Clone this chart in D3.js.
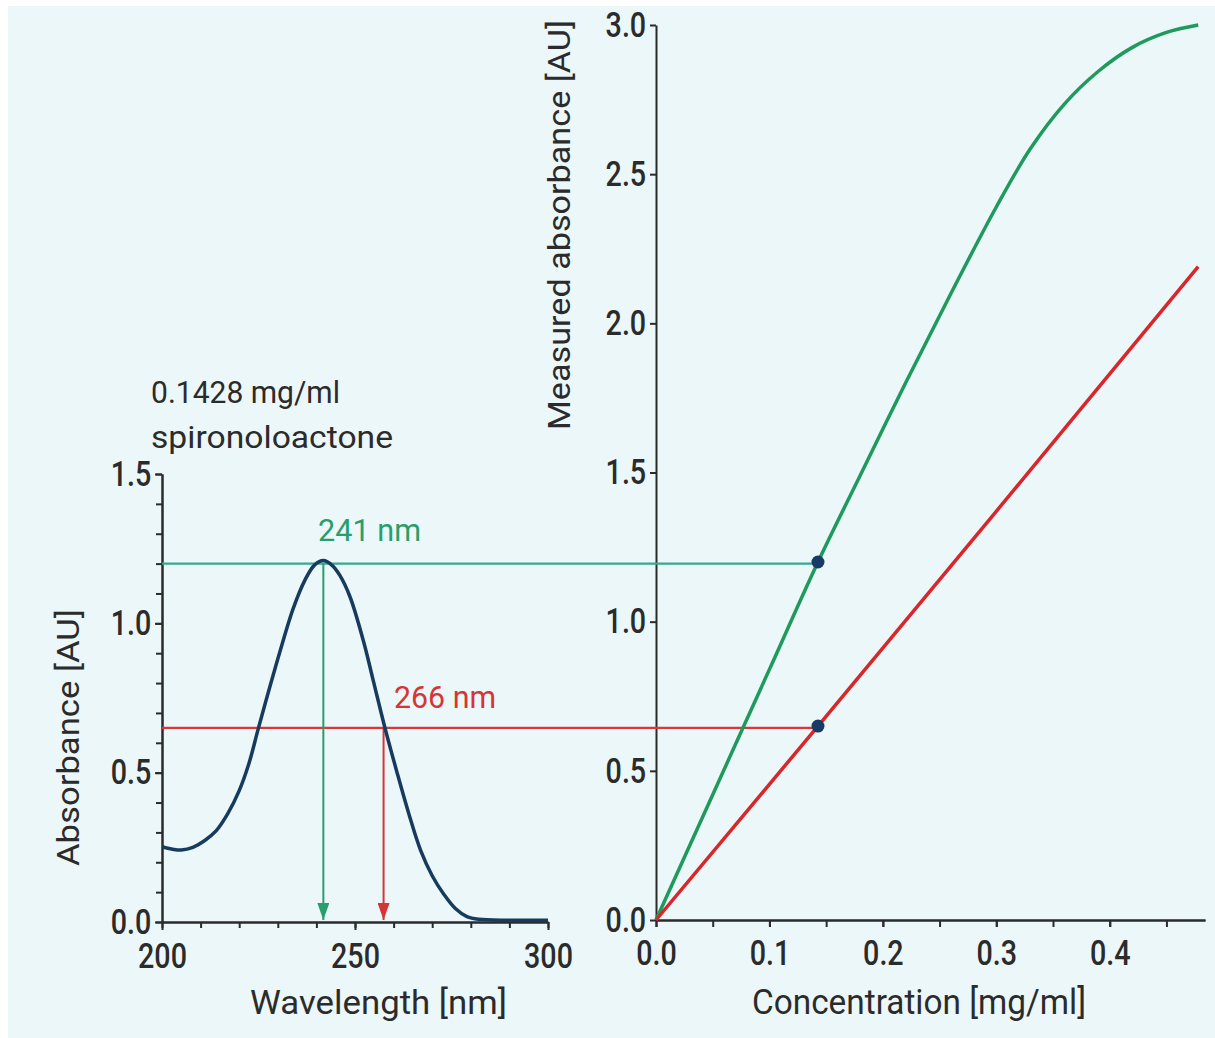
<!DOCTYPE html>
<html>
<head>
<meta charset="utf-8">
<script src="https://cdn.jsdelivr.net/npm/d3@7"></script>
<style>
  body { margin: 0; background: #ffffff; }
  .tick text { font-family: Roboto, "DejaVu Sans Condensed", sans-serif; font-size: 35px; font-weight: 500; fill: #2b2b2b; }
  .tick line, .domain { stroke: #2b2b2b; stroke-width: 2; }
  .title { font-family: Roboto, "Liberation Sans", sans-serif; fill: #2b2b2b; }
</style>
</head>
<body>
<div id="chart"></div>
<script>
// absorption spectrum, 0.1428 mg/ml
const wavelength = [200, 203, 205, 208, 211, 214, 217, 220, 222.5, 225, 228, 231, 234, 237, 239.5, 241.8, 244, 246, 248.7, 252.2, 254.7, 257.8, 260.8, 264, 267, 270, 273, 276, 279, 282, 290, 300];
const spectrumAbs = [0.252, 0.243, 0.241, 0.250, 0.272, 0.305, 0.362, 0.440, 0.530, 0.650, 0.790, 0.925, 1.050, 1.144, 1.195, 1.210, 1.195, 1.162, 1.089, 0.940, 0.810, 0.648, 0.505, 0.360, 0.240, 0.155, 0.093, 0.045, 0.018, 0.009, 0.006, 0.006];

// calibration curves
const concGreen = [0, 0.05, 0.1, 0.1428, 0.18, 0.22, 0.26, 0.30, 0.33, 0.36, 0.39, 0.42, 0.45, 0.478];
const absGreen = [0, 0.42, 0.84, 1.2, 1.49, 1.80, 2.10, 2.39, 2.585, 2.735, 2.845, 2.925, 2.975, 3.0];
const concRed = [0, 0.1428, 0.30, 0.478];
const absRed = [0, 0.65, 1.37, 2.19];

// sample point and the two wavelengths
const sampleConc = 0.1428;
const peakWl = [241.8, 257.4];
const peakAbs = [1.2, 0.65];
const peakLabels = ["241 nm", "266 nm"];
const peakColors = ["#2a9d6c", "#d63436"];
const hlineColors = ["#35a88e", "#d8383c"];

const leftXTicks = [200, 250, 300];
const leftYTicks = [0, 0.5, 1.0, 1.5];
const rightXTicks = [0, 0.1, 0.2, 0.3, 0.4];
const rightYTicks = [0, 0.5, 1.0, 1.5, 2.0, 2.5, 3.0];

const W = 1215, H = 1038;
const svg = d3.select('#chart').append('svg')
    .attr('width', W).attr('height', H);

svg.append('rect').attr('x', 8).attr('y', 6).attr('width', W - 8).attr('height', H - 6)
    .attr('fill', '#ecf7f9');

const defs = svg.append('defs');
peakColors.forEach((c, i) => {
    defs.append('marker')
        .attr('id', 'arrow' + i)
        .attr('viewBox', '0 0 17 12')
        .attr('refX', 17).attr('refY', 6)
        .attr('markerWidth', 17).attr('markerHeight', 12)
        .attr('markerUnits', 'userSpaceOnUse')
        .attr('orient', 'auto')
        .append('path').attr('d', 'M0,0 L17,6 L0,12 Z').attr('fill', c);
});

// scales
const xL = d3.scaleLinear().domain([200, 300]).range([162, 548]);
const yL = d3.scaleLinear().domain([0, 1.5]).range([922, 474]);
const xR = d3.scaleLinear().domain([0, 0.484]).range([656, 1205]);
const yR = d3.scaleLinear().domain([0, 3]).range([920, 25]);

const fmt = d3.format('.1f');

// condensed look for the tick numbers
function squeeze(g) {
    g.selectAll('text').attr('transform', 'scale(0.82,1)');
}

// left axes
svg.append('g').attr('transform', `translate(0,${yL(0)})`)
    .call(d3.axisBottom(xL).tickValues(d3.range(200, 301, 10)).tickFormat('').tickSize(6).tickSizeOuter(0));
svg.append('g').attr('transform', `translate(0,${yL(0)})`)
    .call(d3.axisBottom(xL).tickValues(leftXTicks).tickFormat(d3.format('d')).tickSize(8).tickPadding(13).tickSizeOuter(0))
    .call(squeeze);
svg.append('g').attr('transform', `translate(${xL(200)},0)`)
    .call(d3.axisLeft(yL).tickValues(d3.range(0, 1.51, 0.1)).tickFormat('').tickSize(6).tickSizeOuter(0));
svg.append('g').attr('transform', `translate(${xL(200)},0)`)
    .call(d3.axisLeft(yL).tickValues(leftYTicks).tickFormat(fmt).tickSize(7).tickPadding(6).tickSizeOuter(0))
    .call(squeeze);

// right axes
svg.append('g').attr('transform', `translate(0,${yR(0)})`)
    .call(d3.axisBottom(xR).tickValues(d3.range(0, 0.48, 0.05)).tickFormat('').tickSize(7).tickSizeOuter(0));
svg.append('g').attr('transform', `translate(0,${yR(0)})`)
    .call(d3.axisBottom(xR).tickValues(rightXTicks).tickFormat(fmt).tickSize(7).tickPadding(13).tickSizeOuter(0))
    .call(squeeze);
svg.append('g').attr('transform', `translate(${xR(0)},0)`)
    .call(d3.axisLeft(yR).tickValues(rightYTicks).tickFormat(fmt).tickSize(6).tickPadding(6).tickSizeOuter(0))
    .call(squeeze);

svg.selectAll('.domain').attr('stroke-width', 2.5);

// horizontal lines from the spectrum to the calibration point
peakAbs.forEach((a, i) => {
    svg.append('line')
        .attr('x1', xL(200)).attr('x2', xR(sampleConc))
        .attr('y1', yL(a)).attr('y2', yL(a))
        .attr('stroke', hlineColors[i]).attr('stroke-width', 2.2);
});

// vertical arrows down to the wavelength axis
peakWl.forEach((w, i) => {
    svg.append('line')
        .attr('x1', xL(w)).attr('x2', xL(w))
        .attr('y1', yL(peakAbs[i])).attr('y2', yL(0) - 2)
        .attr('stroke', peakColors[i]).attr('stroke-width', 2)
        .attr('marker-end', `url(#arrow${i})`);
});

// spectrum
const spectrum = wavelength.map((w, i) => [w, spectrumAbs[i]]);
svg.append('path').datum(spectrum)
    .attr('fill', 'none').attr('stroke', '#163b5e').attr('stroke-width', 3.5)
    .attr('d', d3.line().x(d => xL(d[0])).y(d => yL(d[1])).curve(d3.curveCatmullRom.alpha(0.5)));

// calibration curves
const green = concGreen.map((c, i) => [c, absGreen[i]]);
const red = concRed.map((c, i) => [c, absRed[i]]);
const lineR = d3.line().x(d => xR(d[0])).y(d => yR(d[1])).curve(d3.curveCatmullRom.alpha(0.5));
svg.append('path').datum(green)
    .attr('fill', 'none').attr('stroke', '#1d9a5c').attr('stroke-width', 3.5).attr('d', lineR);
svg.append('path').datum(red)
    .attr('fill', 'none').attr('stroke', '#d9262b').attr('stroke-width', 3.5).attr('d', lineR);

// sample points
svg.selectAll('.dot').data(peakAbs).join('circle')
    .attr('class', 'dot')
    .attr('cx', xR(sampleConc)).attr('cy', d => yR(d)).attr('r', 6.5)
    .attr('fill', '#1a3a66');

// wavelength labels
svg.append('text').attr('class', 'title').attr('x', 318).attr('y', 541)
    .attr('font-size', 31).attr('textLength', 103).attr('lengthAdjust', 'spacingAndGlyphs')
    .style('fill', peakColors[0]).text(peakLabels[0]);
svg.append('text').attr('class', 'title').attr('x', 394).attr('y', 708)
    .attr('font-size', 31).attr('textLength', 102).attr('lengthAdjust', 'spacingAndGlyphs')
    .style('fill', peakColors[1]).text(peakLabels[1]);

// annotations and titles
svg.append('text').attr('class', 'title').attr('x', 151).attr('y', 403)
    .attr('font-size', 32).attr('textLength', 189).attr('lengthAdjust', 'spacingAndGlyphs')
    .text('0.1428 mg/ml');
svg.append('text').attr('class', 'title').attr('x', 151).attr('y', 448)
    .attr('font-size', 32).attr('textLength', 242).attr('lengthAdjust', 'spacingAndGlyphs')
    .text('spironoloactone');

svg.append('text').attr('class', 'title')
    .attr('x', 250).attr('y', 1014).attr('font-size', 33)
    .attr('textLength', 257).attr('lengthAdjust', 'spacingAndGlyphs').text('Wavelength [nm]');
svg.append('text').attr('class', 'title')
    .attr('x', 752).attr('y', 1014).attr('font-size', 35)
    .attr('textLength', 334).attr('lengthAdjust', 'spacingAndGlyphs').text('Concentration [mg/ml]');

svg.append('text').attr('class', 'title')
    .attr('transform', 'translate(79,866) rotate(-90)').attr('font-size', 32)
    .attr('textLength', 257).attr('lengthAdjust', 'spacingAndGlyphs').text('Absorbance [AU]');
svg.append('text').attr('class', 'title')
    .attr('transform', 'translate(570,430) rotate(-90)').attr('font-size', 32)
    .attr('textLength', 410).attr('lengthAdjust', 'spacingAndGlyphs').text('Measured absorbance [AU]');
</script>
</body>
</html>
